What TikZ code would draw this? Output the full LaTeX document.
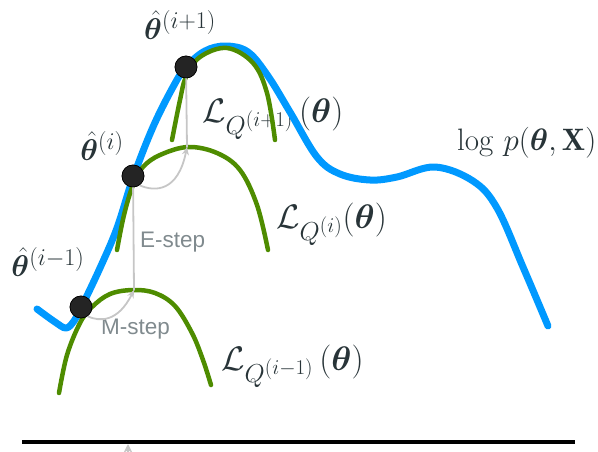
\RequirePackage{fix-cm}
\documentclass[tikz,border=0pt]{standalone}
\usepackage{amsmath,bm}
\usepackage{fontspec}
\setsansfont{Liberation Sans}
\usetikzlibrary{arrows.meta}
\DeclareMathSizes{30}{30}{24}{20}
\DeclareMathSizes{34}{34}{26}{21}

\definecolor{llblue}{RGB}{0,153,255}
\definecolor{qgreen}{RGB}{78,140,0}
\definecolor{inkdark}{RGB}{40,52,56}
\definecolor{stepgrey}{RGB}{198,198,198}
\definecolor{steptext}{RGB}{128,138,142}

\begin{document}
\begin{tikzpicture}[x=1pt, y=-1pt, line cap=round, line join=round,
    loglik/.style={draw=llblue, line width=7pt},
    lbound/.style={draw=qgreen, line width=4.5pt},
    stepline/.style={draw=stepgrey, line width=1.8pt},
    steparrow/.style={stepline, -{Stealth[open, length=8pt, width=7pt]}},
    thdot/.style={circle, fill=black!86, draw=black, line width=0.6pt, minimum size=22pt, inner sep=0pt},
    mathlbl/.style={inner sep=0pt, text=inkdark, font=\fontsize{30}{34}\selectfont},
    lqlbl/.style={mathlbl, anchor=west, font=\fontsize{34}{38}\selectfont},
    steplbl/.style={inner sep=0pt, anchor=west, text=steptext, font=\sffamily\fontsize{22.5}{26}\selectfont}]

  %% ════ 标签（放在最底层，曲线压在上面）════
  \node[mathlbl] (thA) at (180,25) {$\hat{\bm{\theta}}^{(i+1)}$};
  \node[mathlbl] (thB) at (102,146) {$\hat{\bm{\theta}}^{(i)}$};
  \node[mathlbl] (thC) at (48,262) {$\hat{\bm{\theta}}^{(i-1)}$};
  \node[lqlbl] (lqA) at (202,118) {$\mathcal{L}_{Q^{(i+1)}}\,(\bm{\theta})$};
  \node[lqlbl] (lqB) at (276,224) {$\mathcal{L}_{Q^{(i)}}(\bm{\theta})$};
  \node[lqlbl] (lqC) at (221,366) {$\mathcal{L}_{Q^{(i-1)}}\,(\bm{\theta})$};
  \node[mathlbl, anchor=west, font=\fontsize{31}{35}\selectfont] (logp) at (457,143) {$\log\,p(\bm{\theta},\mathbf{X})$};
  \node[steplbl] (estep) at (140,242) {E-step};
  \node[steplbl] (mstep) at (101,329) {M-step};

  %% ════ log p 曲线 ════
  \draw[loglik] plot[smooth, tension=0.6] coordinates {
    (37,309) (55,322) (66,328) (74,321) (81,308) (100,268) (117,228) (133,178)
    (153,127) (173,87) (186,67) (205,51) (226,46) (248,52) (268,76) (290,112)
    (317,157) (340,174) (370,180) (397,177) (435,167) (473,181)
    (497,208) (523,267) (548,326)};

  %% ════ 下界曲线 ════
  \draw[lbound] plot[smooth, tension=0.6] coordinates {
    (59,393) (67,355) (80,323) (92,307) (110,294) (133,290) (155,293)
    (175,306) (192,333) (203,360) (211,385)};
  \draw[lbound] plot[smooth, tension=0.6] coordinates {
    (117,250) (124,215) (133,185) (143,167) (160,155) (188,147) (217,153)
    (240,170) (257,205) (268,250)};
  \draw[lbound] plot[smooth, tension=0.6] coordinates {
    (172,140) (180,100) (186,77) (200,57) (227,48) (253,63) (267,93) (275,140)};

  %% ════ 实心点 ════
  \node[thdot] (d0) at (81,307) {};
  \node[thdot] (d1) at (133,176) {};
  \node[thdot] (d2) at (186,67) {};
  \coordinate (pk0) at (134,290);
  \coordinate (pk1) at (187,147);

  %% ════ E / M 步 ════
  \draw[steparrow] (d0.-55) .. controls (100,322) and (118,322) .. (pk0);
  \draw[stepline] (pk0) -- (d1);
  \draw[steparrow] (d1.-55) .. controls (155,192) and (178,192) .. (pk1);
  \draw[stepline] (pk1) -- (d2);
  % 点要盖住箭头线
  \node[thdot] at (d0) {};
  \node[thdot] at (d1) {};
  \node[thdot] at (d2) {};

  %% ════ 底线 ════
  \coordinate (stray) at (128,453);
  \draw[stepline, -{Stealth[length=9pt, width=9pt]}] (stray) -- ++(0,-9);
  \draw[line width=3.5pt, line cap=butt] (22,442) -- (575,442);

  \pgfresetboundingbox
  \path[use as bounding box] (0,0) rectangle (598,452);
\end{tikzpicture}
\end{document}
